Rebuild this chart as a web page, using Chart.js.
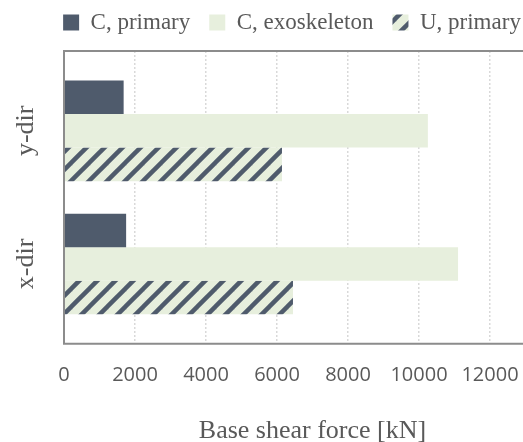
<!DOCTYPE html>
<html>
<head>
<meta charset="utf-8">
<script src="https://cdn.jsdelivr.net/npm/chart.js@4"></script>
<style>
    html, body { margin: 0; padding: 0; background: #fff; overflow: hidden; }
    .chart { width: 584px; height: 442px; }
</style>
</head>
<body>
<div class="chart"><canvas id="chart"></canvas></div>
<script>
const categories = ['y-dir', 'x-dir'];
const seriesNames = ['C, primary', 'C, exoskeleton', 'U, primary'];
const cPrimary = [1680, 1750];
const cExoskeleton = [10250, 11100];
const uPrimary = [6140, 6450];
const xTicks = [0, 2000, 4000, 6000, 8000, 10000, 12000, 14000];

const DARK = '#4f5b6c';
const LIGHT = '#e7efdd';
const TEXT = '#595959';

// diagonal hatch for the uncoupled series
const hatch = (() => {
    const s = 18;
    const c = document.createElement('canvas');
    c.width = s;
    c.height = s;
    const g = c.getContext('2d');
    g.fillStyle = LIGHT;
    g.fillRect(0, 0, s, s);
    g.strokeStyle = DARK;
    g.lineWidth = 4.5;
    [[0, s, s, 0], [-s / 2, s / 2, s / 2, -s / 2], [s / 2, s * 1.5, s * 1.5, s / 2]].forEach(([a, b, c2, d]) => {
        g.beginPath();
        g.moveTo(a, b);
        g.lineTo(c2, d);
        g.stroke();
    });
    return g.createPattern(c, 'repeat');
})();

const toPoints = values => values.map((v, i) => ({ x: v, y: i }));

// plot box (right side runs off the page) + rotated category names
const frame = {
    id: 'frame',
    afterDraw(chart) {
        const { ctx, chartArea: a, scales } = chart;
        const right = scales.x.getPixelForValue(xTicks[xTicks.length - 1]);
        ctx.save();
        ctx.strokeStyle = '#8c8c8c';
        ctx.lineWidth = 2;
        ctx.beginPath();
        ctx.moveTo(right, a.top);
        ctx.lineTo(a.left, a.top);
        ctx.lineTo(a.left, a.bottom);
        ctx.lineTo(right, a.bottom);
        ctx.stroke();

        ctx.fillStyle = TEXT;
        ctx.font = '26px "Liberation Serif"';
        ctx.textAlign = 'center';
        ctx.textBaseline = 'middle';
        categories.forEach((name, i) => {
            ctx.save();
            ctx.translate(a.left - 38, scales.y.getPixelForValue(i));
            ctx.rotate(-Math.PI / 2);
            ctx.fillText(name, 0, 0);
            ctx.restore();
        });
        ctx.restore();
    }
};

new Chart(document.getElementById('chart'), {
    type: 'bar',
    data: {
        datasets: [
            { label: seriesNames[0], data: toPoints(cPrimary), backgroundColor: DARK, xAxisID: 'x', yAxisID: 'y' },
            { label: seriesNames[1], data: toPoints(cExoskeleton), backgroundColor: LIGHT, xAxisID: 'x', yAxisID: 'y' },
            { label: seriesNames[2], data: toPoints(uPrimary), backgroundColor: hatch, xAxisID: 'x', yAxisID: 'y' }
        ]
    },
    options: {
        indexAxis: 'y',
        responsive: true,
        maintainAspectRatio: false,
        animation: false,
        layout: { padding: { top: -8, bottom: -5, right: 0, left: 0 } },
        datasets: {
            bar: { barPercentage: 1, categoryPercentage: 0.756, borderWidth: 0 }
        },
        plugins: {
            legend: {
                position: 'top',
                labels: {
                    boxWidth: 16,
                    boxHeight: 16,
                    padding: 19,
                    color: TEXT,
                    font: { family: 'Liberation Serif', size: 23 }
                }
            },
            tooltip: { enabled: false }
        },
        scales: {
            x: {
                min: 0,
                max: 14000,
                afterBuildTicks: scale => { scale.ticks = xTicks.map(v => ({ value: v })); },
                afterFit: scale => { scale.paddingRight = 23; scale.paddingLeft = 0; },
                grid: { color: '#d9d9d9', lineWidth: 1.5, drawTicks: false },
                border: { display: false, dash: [2, 2] },
                ticks: {
                    autoSkip: false,
                    maxRotation: 0,
                    padding: 19,
                    color: TEXT,
                    font: { family: 'Open Sans', size: 20 },
                    callback: v => (v === 14000 ? '' : String(v))
                },
                title: {
                    display: true,
                    text: 'Base shear force [kN]',
                    color: TEXT,
                    font: { family: 'Liberation Serif', size: 26 },
                    padding: { top: 10, bottom: 0 }
                }
            },
            y: {
                type: 'linear',
                reverse: true,
                offset: false,
                min: -0.6,
                max: 1.6,
                afterBuildTicks: scale => { scale.ticks = categories.map((_, i) => ({ value: i })); },
                afterFit: scale => { scale.width = 64; },
                grid: { display: false },
                border: { display: false },
                ticks: { display: false }
            },
            // empty strip between legend and plot box
            top: {
                type: 'linear',
                position: 'top',
                display: true,
                afterFit: scale => { scale.height = 7; },
                grid: { display: false },
                border: { display: false },
                ticks: { display: false }
            }
        }
    },
    plugins: [frame]
});
</script>
</body>
</html>
